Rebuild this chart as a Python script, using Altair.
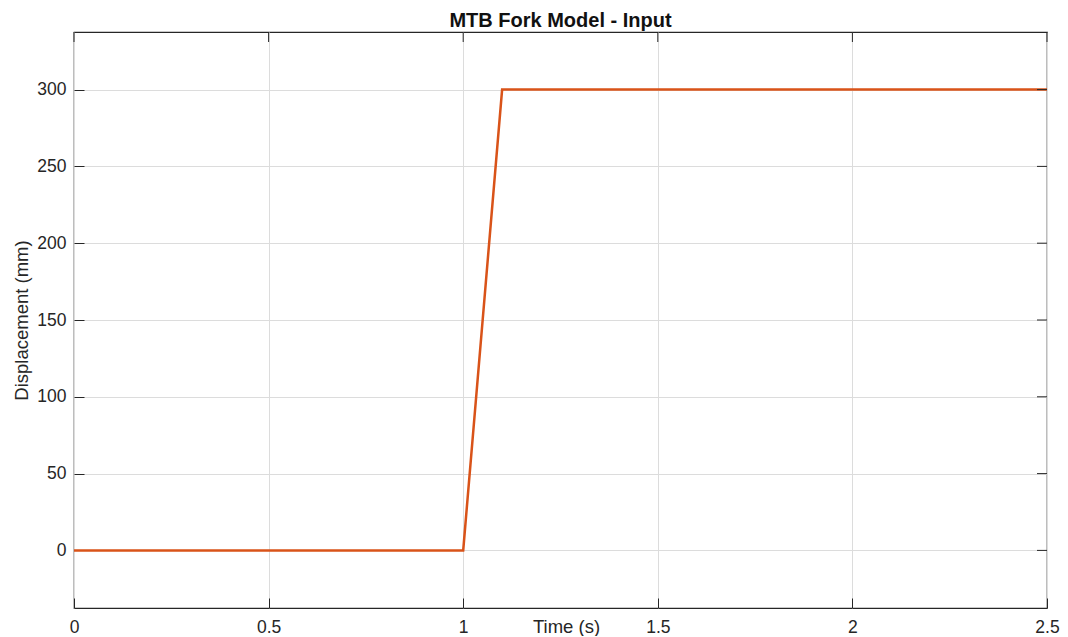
import altair as alt
import pandas as pd

# Data
time_s = [0.0, 1.0, 1.1, 2.5]
displacement_mm = [0, 0, 300, 300]
x_ticks = [0, 0.5, 1, 1.5, 2, 2.5]
y_ticks = [0, 50, 100, 150, 200, 250, 300]

df = pd.DataFrame({"t": time_s, "d": displacement_mm})
xt = pd.DataFrame({"t": x_ticks})
yt = pd.DataFrame({"d": y_ticks})

FONT = "Liberation Sans"
DARK = "#262626"
W, H = 973, 576
TICK = 10

xs = alt.Scale(domain=[0, 2.5], nice=False, zero=False)
ys = alt.Scale(domain=[-37.5, 337.5], nice=False, zero=False)

main = alt.Chart(df).mark_line(color="#D95319", strokeWidth=2.5).encode(
    x=alt.X("t:Q", scale=xs, title="Time (s)",
            axis=alt.Axis(orient="bottom", values=x_ticks, format="~g", grid=True,
                          ticks=True, tickSize=TICK, tickColor=DARK, offset=-TICK,
                          domain=False, labelPadding=24,
                          labelFlush=False, labelOverlap=False,
                          labelBaseline="alphabetic", labelFontSize=17.5,
                          labelColor=DARK, labelFont=FONT,
                          titleFont=FONT, titleFontSize=18.5, titleFontWeight="normal",
                          titleColor=DARK, titleX=492, titleY=34,
                          titleBaseline="alphabetic", titleAlign="center",
                          gridColor="#dcdcdc", gridWidth=1)),
    y=alt.Y("d:Q", scale=ys, title="Displacement (mm)",
            axis=alt.Axis(orient="left", values=y_ticks, grid=True,
                          ticks=True, tickSize=TICK, tickColor=DARK, offset=-TICK,
                          domain=False, labelPadding=8, labelFontSize=17.5,
                          labelFlush=False, labelOverlap=False,
                          labelColor=DARK, labelFont=FONT,
                          titleFont=FONT, titleFontSize=18.5, titleFontWeight="normal",
                          titleColor=DARK, titleX=-57, titleY=H / 2,
                          titleBaseline="alphabetic", titleAlign="center",
                          titleAngle=-90,
                          gridColor="#dcdcdc", gridWidth=1)),
)

top_ticks = alt.Chart(xt).mark_rule(color=DARK, strokeWidth=1).encode(
    x=alt.X("t:Q", scale=xs), y=alt.value(0), y2=alt.value(TICK))
right_ticks = alt.Chart(yt).mark_rule(color=DARK, strokeWidth=1).encode(
    y=alt.Y("d:Q", scale=ys), x=alt.value(W - TICK), x2=alt.value(W))

chart = alt.layer(main, top_ticks, right_ticks).properties(
    width=W, height=H,
    title=alt.TitleParams("MTB Fork Model - Input", font=FONT, fontSize=20,
                          fontWeight="bold", color="#111111", anchor="middle",
                          baseline="alphabetic", offset=7, frame="group", dy=22),
    autosize=alt.AutoSizeParams(type="none"),
    padding={"left": 66, "top": 24, "right": 13, "bottom": 28},
).configure(background="white").configure_view(stroke=DARK, strokeWidth=1.2)

chart.save("out.html", embed_options={"renderer": "svg", "actions": False})
